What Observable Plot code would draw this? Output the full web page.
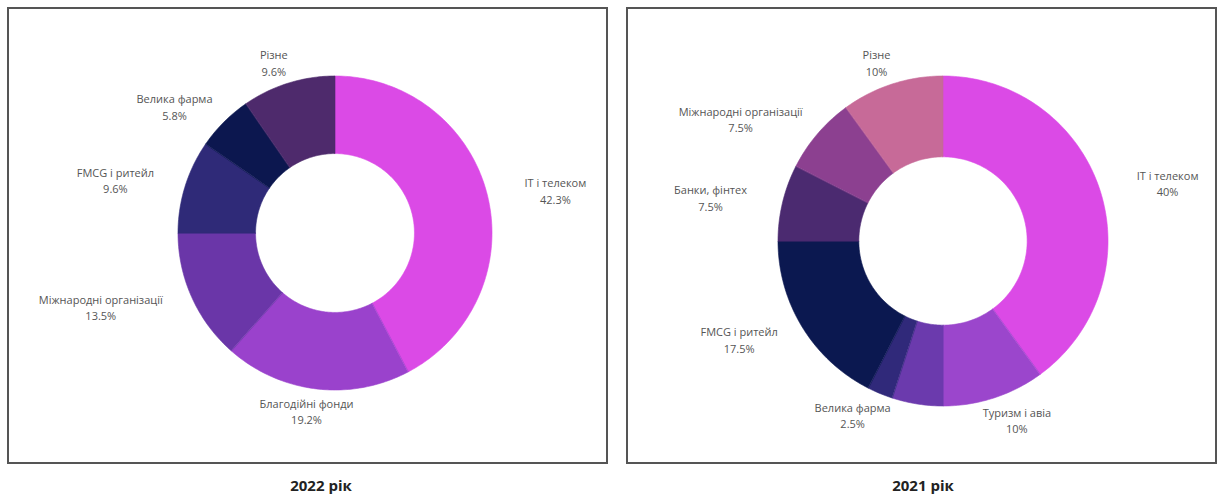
<!DOCTYPE html>
<html><head><meta charset="utf-8">
<script src="https://cdn.jsdelivr.net/npm/d3@7"></script>
<script src="https://cdn.jsdelivr.net/npm/@observablehq/plot@0.6"></script>
<style>
body{margin:0;background:#fff;font-family:"Open Sans",sans-serif;}
.frame{position:absolute;box-sizing:border-box;border:2.5px solid #555;top:7px;height:457px;}
.frame svg{display:block;}
.title{position:absolute;top:475px;width:200px;text-align:center;font-weight:700;font-size:15px;color:#222;line-height:20px;font-family:"Open Sans",sans-serif;}
</style></head><body>
<div id="f1" class="frame" style="left:7px;width:601px"></div>
<div id="f2" class="frame" style="left:626px;width:591px"></div>
<div class="title" style="left:221px">2022 рік</div>
<div class="title" style="left:823px">2021 рік</div>
<script>
// ---- data ----
const cats2022 = ["IT і телеком", "Благодійні фонди", "Міжнародні організації", "FMCG і ритейл", "Велика фарма", "Різне"];
const vals2022 = [42.3, 19.2, 13.5, 9.6, 5.8, 9.6];
const cats2021 = ["IT і телеком", "Туризм і авіа", "", "Велика фарма", "FMCG і ритейл", "Банки, фінтех", "Міжнародні організації", "Різне"];
const vals2021 = [40, 10, 5, 2.5, 17.5, 7.5, 7.5, 10];
// ---- styles ----
const colors2022 = ["#db4ae6", "#9a42cc", "#6a36a8", "#2f2a78", "#0c174f", "#4e2a6c"];
const colors2021 = ["#db4ae6", "#9b46cc", "#6b3aad", "#30297a", "#0b1850", "#4b2a70", "#8c4090", "#c76a98"];

function donut(cats, vals, colors, opt) {
  const {width, height, cx, cy, R, inner} = opt;
  const total = d3.sum(vals);
  let acc = 0;
  const slices = vals.map((v, i) => {
    const a0 = acc / total * 2 * Math.PI; acc += v;
    const a1 = acc / total * 2 * Math.PI;
    return {i, name: cats[i], value: v, a0, a1, color: colors[i]};
  });
  const pts = [];
  for (const s of slices) {
    const n = Math.max(2, Math.ceil((s.a1 - s.a0) / (Math.PI / 180)));
    for (let k = 0; k <= n; k++) {
      const a = s.a0 + (s.a1 - s.a0) * k / n;
      pts.push({i: s.i, color: s.color, x: Math.sin(a), y: Math.cos(a)});
    }
    for (let k = n; k >= 0; k--) {
      const a = s.a0 + (s.a1 - s.a0) * k / n;
      pts.push({i: s.i, color: s.color, x: inner * Math.sin(a), y: inner * Math.cos(a)});
    }
  }
  const labels = slices.filter(s => s.name).map(s => {
    const m = (s.a0 + s.a1) / 2;
    const val = s.value + "%";
    const halfW = Math.max(s.name.length, val.length) * 3;
    const off = Math.sin(m) * (halfW + 12) / R;
    return {x: 1.14 * Math.sin(m) + off, y: 1.14 * Math.cos(m), text: s.name + "\n" + val};
  });
  return Plot.plot({
    width, height, margin: 0,
    x: {domain: [-1, 1], range: [cx - R, cx + R], axis: null},
    y: {domain: [-1, 1], range: [cy + R, cy - R], axis: null},
    color: {type: "identity"},
    marks: [
      Plot.line(pts, {x: "x", y: "y", z: "i", fill: "color", stroke: "color", strokeWidth: 0.6, curve: "linear-closed"}),
      Plot.text(labels, {x: "x", y: "y", text: "text", fontSize: 11, fill: "#555", lineHeight: 1.5, fontFamily: "Open Sans"})
    ]
  });
}

document.getElementById("f1").append(donut(cats2022, vals2022, colors2022, {width: 596, height: 452, cx: 325.5, cy: 223.5, R: 157, inner: 0.506}));
document.getElementById("f2").append(donut(cats2021, vals2021, colors2021, {width: 586, height: 452, cx: 314.5, cy: 231.5, R: 165, inner: 0.51}));
</script>
</body></html>
